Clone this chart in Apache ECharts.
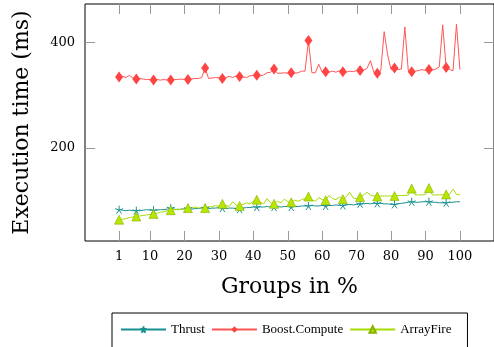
<!DOCTYPE html>
<html><head><meta charset="utf-8">
<script src="https://cdn.jsdelivr.net/npm/echarts@6/dist/echarts.min.js"></script>
<style>html,body{margin:0;padding:0;background:#fff}#c{width:494px;height:347px}</style>
</head><body><div id="c"></div>
<script>
const groups = Array.from({length:100},(_, i)=>i+1);
const xTicks = [1,10,20,30,40,50,60,70,80,90,100];
const yTicks = [200,400];
const thrust = [82,81,80,81,80,80,80,81,82,81, 81,81,82,82,83,85,83,82,83,84,
  84,83,84,84,85,85,84,85,85,86, 85,84,85,85,84,83,85,86,86,87,
  87,87,87,88,87,87,88,87,88,88, 87,88,88,89,89,89,90,89,89,90,
  89,90,90,91,90,90,91,92,91,92, 93,93,94,93,94,94,94,93,93,92,
  92,93,94,95,96,97,96,96,97,97, 97,96,96,95,95,95,96,96,97,97];
const boost = [334,335,333,337,332,330,331,330,329,329, 328,329,328,329,328,328,329,329,330,329,
  329,330,331,331,333,351,331,332,333,332, 331,333,335,333,336,335,334,333,336,337,
  337,336,338,342,343,349,341,341,342,341, 342,341,342,345,345,403,342,342,358,343,
  344,343,345,343,346,344,343,345,344,346, 346,347,350,365,343,341,345,420,376,348,
  351,348,349,429,346,344,345,346,348,346, 348,347,349,353,433,352,348,346,434,348];
const arrayfire = [63,64,65,67,68,69,70,71,72,73, 74,75,77,78,80,81,82,83,82,84,
  85,86,87,85,86,85,88,87,90,88, 93,90,88,97,91,89,92,95,93,98,
  101,96,93,103,95,93,98,95,102,97, 96,100,98,101,103,107,100,98,105,101,
  100,109,103,101,106,102,107,115,104,103, 106,110,115,110,108,107,108,108,108,108,
  108,109,109,109,110,122,110,110,110,111, 123,110,110,110,110,111,111,121,111,110];

const X_MIN = -8.9, X_MAX = 109.9, Y_MIN = 22.5, Y_MAX = 472.5;
const serif = '"Liberation Serif","DejaVu Serif",serif';
const wideSerif = '"DejaVu Serif",serif';
const pair = a => groups.map((g,i)=>[g,a[i]]);
const markSize = s => (v,p) => (p.dataIndex % 5 === 0 ? s : 0);
const starPath = 'path://M0,-10L0,0M9.5,-3.1L0,0M5.9,8.1L0,0M-5.9,8.1L0,0M-9.5,-3.1L0,0';
const TICK_LEN = 10, tickColor = '#999';

function tickRect(x, y, w, h){
  return {type:'rect', shape:{x, y, width:w, height:h}, style:{fill:tickColor, stroke:null}, silent:true};
}
const xTickSeries = {
  type:'custom', silent:true, z:1, clip:false, data:xTicks.map(v=>[v, 100]),
  renderItem:(params, api) => {
    const v = api.value(0);
    const b = api.coord([v, Y_MIN]), t = api.coord([v, Y_MAX]);
    const x = Math.round(b[0]);
    return {type:'group', children:[
      tickRect(x, Math.round(b[1]) - TICK_LEN, 1, TICK_LEN),
      tickRect(x, Math.round(t[1]), 1, TICK_LEN)
    ]};
  }
};
const yTickSeries = {
  type:'custom', silent:true, z:1, clip:false, data:yTicks.map(v=>[50, v]),
  renderItem:(params, api) => {
    const v = api.value(1);
    const l = api.coord([X_MIN, v]), r = api.coord([X_MAX, v]);
    const y = Math.round(l[1]);
    return {type:'group', children:[
      tickRect(Math.round(l[0]), y, TICK_LEN, 1),
      tickRect(Math.round(r[0]) - TICK_LEN, y, TICK_LEN, 1)
    ]};
  }
};

const chart = echarts.init(document.getElementById('c'), null, {renderer:'canvas'});
chart.setOption({
  animation:false,
  grid:{left:85, top:4, width:410, height:237, show:true, borderColor:'#000', borderWidth:1, backgroundColor:'transparent'},
  legend:{
    left:112, top:313, padding:[10,16,50,8], itemGap:6, itemWidth:45, itemHeight:8,
    borderColor:'#000', borderWidth:1,
    textStyle:{fontFamily:serif, fontSize:13, color:'#000'},
    data:['Thrust','Boost.Compute','ArrayFire']
  },
  xAxis:{
    type:'value', min:X_MIN, max:X_MAX, position:'bottom',
    name:'Groups in %', nameLocation:'middle', nameGap:35,
    nameTextStyle:{fontFamily:wideSerif, fontSize:22, color:'#000'},
    axisLine:{show:false, onZero:false}, splitLine:{show:false}, axisTick:{show:false},
    axisLabel:{customValues:xTicks, fontFamily:wideSerif, fontSize:13, color:'#000', margin:9}
  },
  yAxis:{
    type:'value', min:Y_MIN, max:Y_MAX, position:'left',
    name:'Execution time (ms)', nameLocation:'middle', nameGap:52, nameRotate:90,
    nameTextStyle:{fontFamily:wideSerif, fontSize:22, color:'#000'},
    axisLine:{show:false, onZero:false}, splitLine:{show:false}, axisTick:{show:false},
    axisLabel:{customValues:yTicks, fontFamily:wideSerif, fontSize:13, color:'#000', margin:10}
  },
  series:[xTickSeries, yTickSeries, {
    name:'Thrust', type:'line', data:pair(thrust), showAllSymbol:true, z:3,
    symbol:starPath, symbolSize:markSize(8),
    lineStyle:{color:'#17908f', width:1},
    itemStyle:{color:'#17908f', borderColor:'#17908f', borderWidth:1}
  },{
    name:'Boost.Compute', type:'line', data:pair(boost), showAllSymbol:true, z:3,
    symbol:'diamond', symbolSize:(v,p)=>(p.dataIndex % 5 === 0 ? [8,11] : 0),
    lineStyle:{color:'#ff5555', width:1},
    itemStyle:{color:'#ff4444', borderColor:'#ff4444', borderWidth:0}
  },{
    name:'ArrayFire', type:'line', data:pair(arrayfire), showAllSymbol:true, z:3,
    symbol:'triangle', symbolSize:markSize(9),
    lineStyle:{color:'#a6dc00', width:1},
    itemStyle:{color:'#b8e600', borderColor:'#88b000', borderWidth:0.6}
  }]
});
</script></body></html>
